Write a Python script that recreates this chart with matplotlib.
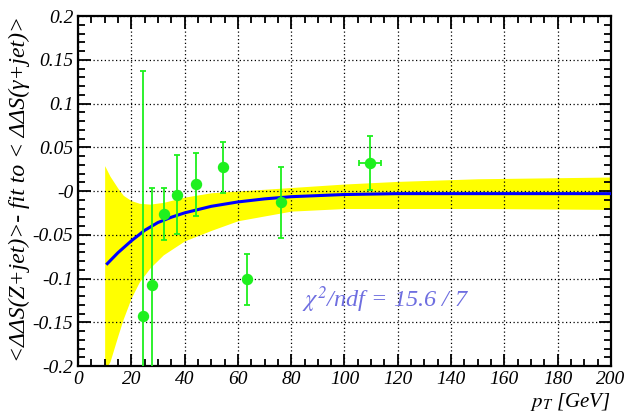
import numpy as np
import matplotlib.pyplot as plt
from matplotlib.ticker import MultipleLocator

plt.rcParams['font.family'] = ['Liberation Serif', 'DejaVu Serif']
plt.rcParams['font.style'] = 'italic'
plt.rcParams['mathtext.fontset'] = 'stix'

# measured points
pt = [24.3, 27.8, 32.3, 37.1, 44.4, 54.3, 63.6, 76.0, 109.6]
val = [-0.143, -0.107, -0.026, -0.004, 0.008, 0.027, -0.101, -0.013, 0.032]
err = [0.28, 0.11, 0.03, 0.045, 0.036, 0.029, 0.029, 0.041, 0.031]
pt_err = [0, 0, 0, 0, 0, 0, 0, 0, 4.2]

# fit curve and its error band
fit_x = [11, 15, 20, 25, 30, 35, 40, 50, 60, 70, 80, 100, 120, 150, 200]
fit_y = [-0.083, -0.0705, -0.057, -0.045, -0.036, -0.030, -0.025, -0.0175,
         -0.0125, -0.009, -0.0065, -0.004, -0.003, -0.003, -0.003]
band_x = [10, 12, 15, 17, 20, 23, 27, 32, 40, 50, 60, 80, 100, 120, 150, 200]
band_hi = [0.029, 0.017, 0.003, -0.005, -0.011, -0.014, -0.015, -0.013,
           -0.007, -0.002, 0.0, 0.004, 0.008, 0.011, 0.014, 0.016]
band_lo = [-0.205, -0.195, -0.165, -0.146, -0.122, -0.104, -0.088, -0.073,
           -0.057, -0.045, -0.034, -0.023, -0.020, -0.020, -0.020, -0.021]

yticks = [-0.2, -0.15, -0.1, -0.05, 0, 0.05, 0.1, 0.15, 0.2]
ytick_labels = ['-0.2', '-0.15', '-0.1', '-0.05', '-0', '0.05', '0.1', '0.15', '0.2']

fig = plt.figure(figsize=(6.26, 4.17), dpi=100)
ax = fig.add_axes([0.1246, 0.1223, 0.8514, 0.8393])

ax.fill_between(band_x, band_lo, band_hi, color='#ffff00', lw=0, zorder=1)
ax.plot(fit_x, fit_y, color='#0000ff', lw=2.2, zorder=3)
ax.errorbar(pt, val, yerr=err, xerr=pt_err, fmt='o', color='#1ef01e',
            ms=7.2, elinewidth=1.3, capsize=2, capthick=1.3, zorder=4)

ax.text(84, -0.1235, r'$\chi^2$/ndf = 15.6 / 7', color='#6e6ee0',
        fontsize=17.5, va='center', ha='left')

ax.set_xlim(0, 200)
ax.set_ylim(-0.2, 0.2)
ax.xaxis.set_major_locator(MultipleLocator(20))
ax.xaxis.set_minor_locator(MultipleLocator(5))
ax.set_yticks(yticks)
ax.set_yticklabels(ytick_labels)
ax.yaxis.set_minor_locator(MultipleLocator(0.01))
ax.tick_params(which='both', direction='in', top=True, right=True,
               labelsize=14, width=1.3)
ax.tick_params(which='major', length=9)
ax.tick_params(which='minor', length=5)
ax.grid(True, which='major', color='black', ls=(0, (1, 2)), lw=0.9)
ax.set_axisbelow(False)
for s in ax.spines.values():
    s.set_linewidth(1.6)

ax.set_xlabel(r'$p_T$ [GeV]', fontsize=15, loc='right', labelpad=2)
ax.set_ylabel(r'<ΔΔS(Z+jet)>- fit to < ΔΔS(γ+jet)>', fontsize=17, loc='top')
ax.yaxis.set_label_coords(-0.09, 1.0)

fig.savefig('out.png', dpi=100)
